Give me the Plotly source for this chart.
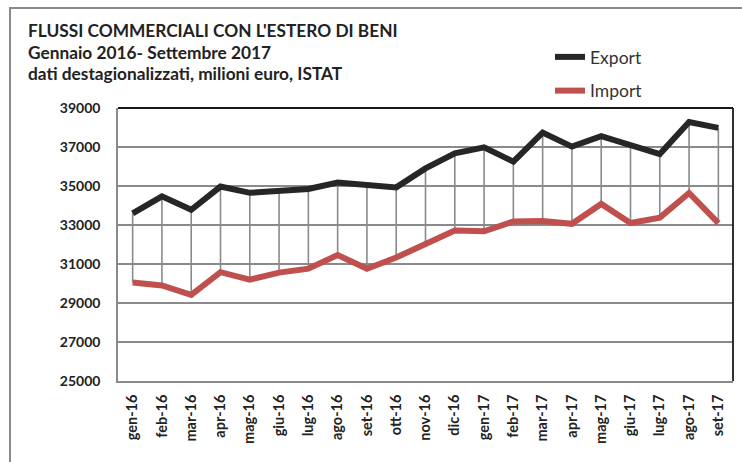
import plotly.graph_objects as go

months = ["gen-16", "feb-16", "mar-16", "apr-16", "mag-16", "giu-16", "lug-16",
          "ago-16", "set-16", "ott-16", "nov-16", "dic-16", "gen-17", "feb-17",
          "mar-17", "apr-17", "mag-17", "giu-17", "lug-17", "ago-17", "set-17"]
export = [33600, 34470, 33780, 34970, 34650, 34750, 34850, 35180, 35080, 34930,
          35900, 36680, 36980, 36250, 37740, 37020, 37560, 37100, 36640, 38280, 37980]
imports = [30050, 29900, 29420, 30580, 30200, 30560, 30760, 31460, 30760, 31330,
           32030, 32720, 32680, 33180, 33200, 33060, 34080, 33100, 33380, 34640, 33100]
y_ticks = [25000, 27000, 29000, 31000, 33000, 35000, 37000, 39000]

FONT = "Lato"
L, R, T, B = 118, 733, 108, 381
W, H = 742, 462

def px(xp):
    return (xp - L) / (R - L)

def py(yp):
    return (B - yp) / (B - T)

# drop lines between export and import
dx, dy = [], []
for m, e, i in zip(months, export, imports):
    dx += [m, m, None]
    dy += [e, i, None]

fig = go.Figure()
fig.add_trace(go.Scatter(x=dx, y=dy, mode="lines", line=dict(color="#8a8a8a", width=1.6),
                         showlegend=False, hoverinfo="skip"))
fig.add_trace(go.Scatter(x=months, y=export, mode="lines", name="Export", legendgroup="e",
                         line=dict(color="#262626", width=6)))
fig.add_trace(go.Scatter(x=months, y=imports, mode="lines", name="Import", legendgroup="i",
                         line=dict(color="#c0504d", width=6)))

fig.update_layout(
    width=W, height=H,
    margin=dict(l=L, r=W - R, t=T, b=H - B, autoexpand=False),
    paper_bgcolor="white", plot_bgcolor="white",
    font=dict(family=FONT, color="#222"),
    showlegend=True,
    legend=dict(x=px(550), y=py(39), xanchor="left", yanchor="top",
                font=dict(family=FONT, size=17.5, color="#333"),
                tracegroupgap=8, bgcolor="rgba(0,0,0,0)"),
    xaxis=dict(type="category", range=[-0.5, 20.5], showgrid=False, automargin=False,
               showline=True, linecolor="#8a8a8a", linewidth=1.6,
               ticks="", tickangle=-90, ticklabelstandoff=6,
               tickfont=dict(family=FONT, size=14.5, color="#222", weight="bold")),
    yaxis=dict(range=[25000, 39000], tickvals=y_ticks, ticktext=[str(v) for v in y_ticks],
               showgrid=True, gridcolor="#8a8a8a", gridwidth=1.6, automargin=False,
               showline=True, linecolor="#8a8a8a", linewidth=1.6,
               ticks="", ticklabelstandoff=13, zeroline=False,
               tickfont=dict(family=FONT, size=14, color="#222", weight="bold")),
)

# black top and right borders of plot area
fig.add_shape(type="line", xref="paper", yref="paper", x0=0, x1=1, y0=1, y1=1,
              line=dict(color="#1a1a1a", width=1.8))
fig.add_shape(type="line", xref="paper", yref="paper", x0=1, x1=1, y0=0, y1=1,
              line=dict(color="#1a1a1a", width=1.8))
# outer frame
fig.add_shape(type="rect", xref="paper", yref="paper",
              x0=px(10), x1=px(760), y0=py(480), y1=py(8),
              line=dict(color="#8a8a8a", width=2), layer="below")

titles = ["FLUSSI COMMERCIALI CON L'ESTERO DI BENI",
          "Gennaio 2016- Settembre 2017",
          "dati destagionalizzati, milioni euro, ISTAT"]
for txt, yc in zip(titles, [31, 52, 73]):
    fig.add_annotation(text="<b>" + txt + "</b>", xref="paper", yref="paper",
                       x=px(26), y=py(yc), xanchor="left", yanchor="middle",
                       showarrow=False, font=dict(family=FONT, size=17.3, color="#222"))

fig.write_html("out.html", config={"displayModeBar": False},
               post_script="document.body.style.margin='0';document.documentElement.style.overflow='hidden';")
